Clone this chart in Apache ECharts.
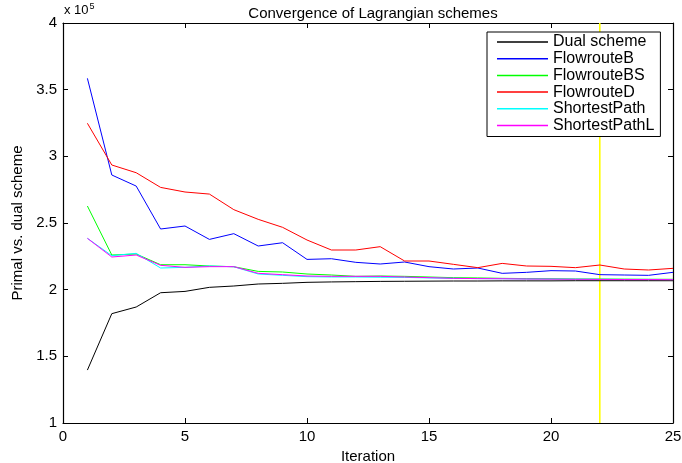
<!DOCTYPE html>
<html>
<head>
<meta charset="utf-8">
<script src="https://cdn.jsdelivr.net/npm/echarts@6/dist/echarts.min.js"></script>
<style>
html,body{margin:0;padding:0;background:#fff;}
#main{width:682px;height:463px;}
</style>
</head>
<body>
<div id="main"></div>
<script>
// values in units of 1e5, iteration 1..25
var iterations = [1,2,3,4,5,6,7,8,9,10,11,12,13,14,15,16,17,18,19,20,21,22,23,24,25];
var dualScheme = [1.397,1.82,1.87,1.977,1.987,2.0175,2.0275,2.0425,2.0475,2.055,2.058,2.06,2.062,2.063,2.064,2.065,2.065,2.066,2.066,2.066,2.067,2.067,2.067,2.067,2.067];
var flowrouteB = [3.585,2.86,2.777,2.455,2.4775,2.377,2.42,2.3275,2.352,2.227,2.232,2.205,2.1925,2.2075,2.1725,2.155,2.1625,2.1225,2.13,2.1425,2.14,2.1125,2.11,2.1075,2.13];
var flowrouteBS = [2.6275,2.26,2.2675,2.187,2.187,2.1775,2.172,2.137,2.1325,2.1175,2.11,2.1,2.1025,2.1,2.095,2.09,2.088,2.085,2.083,2.082,2.08,2.08,2.079,2.078,2.078];
var flowrouteD = [3.248,2.935,2.877,2.767,2.7325,2.717,2.6,2.5275,2.4675,2.3725,2.2975,2.2975,2.3225,2.215,2.215,2.19,2.165,2.197,2.1775,2.175,2.165,2.185,2.155,2.1475,2.16];
var shortestPath = [2.385,2.255,2.2725,2.1625,2.1675,2.1775,2.172,2.1175,2.1075,2.0975,2.095,2.095,2.093,2.092,2.088,2.085,2.083,2.082,2.08,2.08,2.079,2.078,2.077,2.077,2.076];
var shortestPathL = [2.385,2.245,2.26,2.1825,2.1675,2.1725,2.1725,2.1225,2.1125,2.1025,2.1,2.1,2.1,2.095,2.09,2.085,2.083,2.082,2.08,2.079,2.078,2.077,2.076,2.076,2.075];
var markerIteration = 22;
var yRange = [1, 4];

var names = ['Dual scheme','FlowrouteB','FlowrouteBS','FlowrouteD','ShortestPath','ShortestPathL'];
var colors = ['#000000','#0000ff','#00ff00','#ff0000','#00ffff','#ff00ff'];
var values = [dualScheme, flowrouteB, flowrouteBS, flowrouteD, shortestPath, shortestPathL];

function pairs(ys){
    var out = [];
    for (var i = 0; i < ys.length; i++) out.push([iterations[i], ys[i]]);
    return out;
}

var font = 'Liberation Sans, Arial, sans-serif';
var series = [];
// yellow marker line first so curves draw over it
series.push({
    name: 'marker', type: 'line', symbol: 'none', silent: true,
    lineStyle: {color: '#ffff00', width: 1.6},
    data: [[markerIteration, yRange[0]], [markerIteration, yRange[1]]]
});
for (var i = 0; i < names.length; i++) {
    series.push({
        name: names[i], type: 'line', symbol: 'none',
        lineStyle: {color: colors[i], width: 1},
        itemStyle: {color: colors[i]},
        data: pairs(values[i])
    });
}

var chart = echarts.init(document.getElementById('main'));
chart.setOption({
    animation: false,
    backgroundColor: '#fff',
    title: {
        text: 'Convergence of Lagrangian schemes',
        left: 368, top: 1, textAlign: 'center',
        textStyle: {fontFamily: font, fontSize: 15, fontWeight: 'normal', color: '#000'}
    },
    grid: {left: 63, right: 9, top: 23, bottom: 40, outerBoundsMode: 'none', containLabel: false},
    legend: {
        data: names,
        orient: 'vertical',
        left: 487, top: 32,
        padding: [2, 6, 3, 10],
        itemGap: 0.7,
        itemWidth: 51, itemHeight: 1.5,
        icon: 'rect',
        borderColor: '#000', borderWidth: 1,
        backgroundColor: '#fff',
        textStyle: {fontFamily: font, fontSize: 16, lineHeight: 16, color: '#000'}
    },
    graphic: [{
        type: 'text', left: 64, top: 2,
        style: {
            text: '{a|x 10}{b|5}',
            rich: {
                a: {fontFamily: font, fontSize: 13, fill: '#000', verticalAlign: 'bottom'},
                b: {fontFamily: font, fontSize: 9, fill: '#000', verticalAlign: 'top', padding: [0,0,6,1]}
            }
        }
    }],
    xAxis: [{
        type: 'value', min: 0, max: 25, interval: 5,
        name: 'Iteration', nameLocation: 'middle', nameGap: 21,
        nameTextStyle: {fontFamily: font, fontSize: 15, color: '#000'},
        axisLine: {onZero: false, lineStyle: {color: '#000', width: 1.2}},
        axisTick: {inside: true, length: 5, lineStyle: {color: '#000'}},
        axisLabel: {fontFamily: font, fontSize: 15, color: '#000', margin: 6},
        splitLine: {show: false}
    }, {
        type: 'value', position: 'top', min: 0, max: 25, interval: 5,
        axisLine: {onZero: false, lineStyle: {color: '#000', width: 1.2}},
        axisTick: {inside: true, length: 5, lineStyle: {color: '#000'}},
        axisLabel: {show: false},
        splitLine: {show: false}
    }],
    yAxis: [{
        type: 'value', min: yRange[0], max: yRange[1], interval: 0.5,
        name: 'Primal vs. dual scheme', nameLocation: 'middle', nameGap: 36,
        nameTextStyle: {fontFamily: font, fontSize: 15, color: '#000'},
        axisLine: {onZero: false, lineStyle: {color: '#000', width: 1.2}},
        axisTick: {inside: true, length: 5, lineStyle: {color: '#000'}},
        axisLabel: {fontFamily: font, fontSize: 15, color: '#000', margin: 6},
        splitLine: {show: false}
    }, {
        type: 'value', position: 'right', min: yRange[0], max: yRange[1], interval: 0.5,
        axisLine: {onZero: false, lineStyle: {color: '#000', width: 1.2}},
        axisTick: {inside: true, length: 5, lineStyle: {color: '#000'}},
        axisLabel: {show: false},
        splitLine: {show: false}
    }],
    series: series
});
</script>
</body>
</html>
